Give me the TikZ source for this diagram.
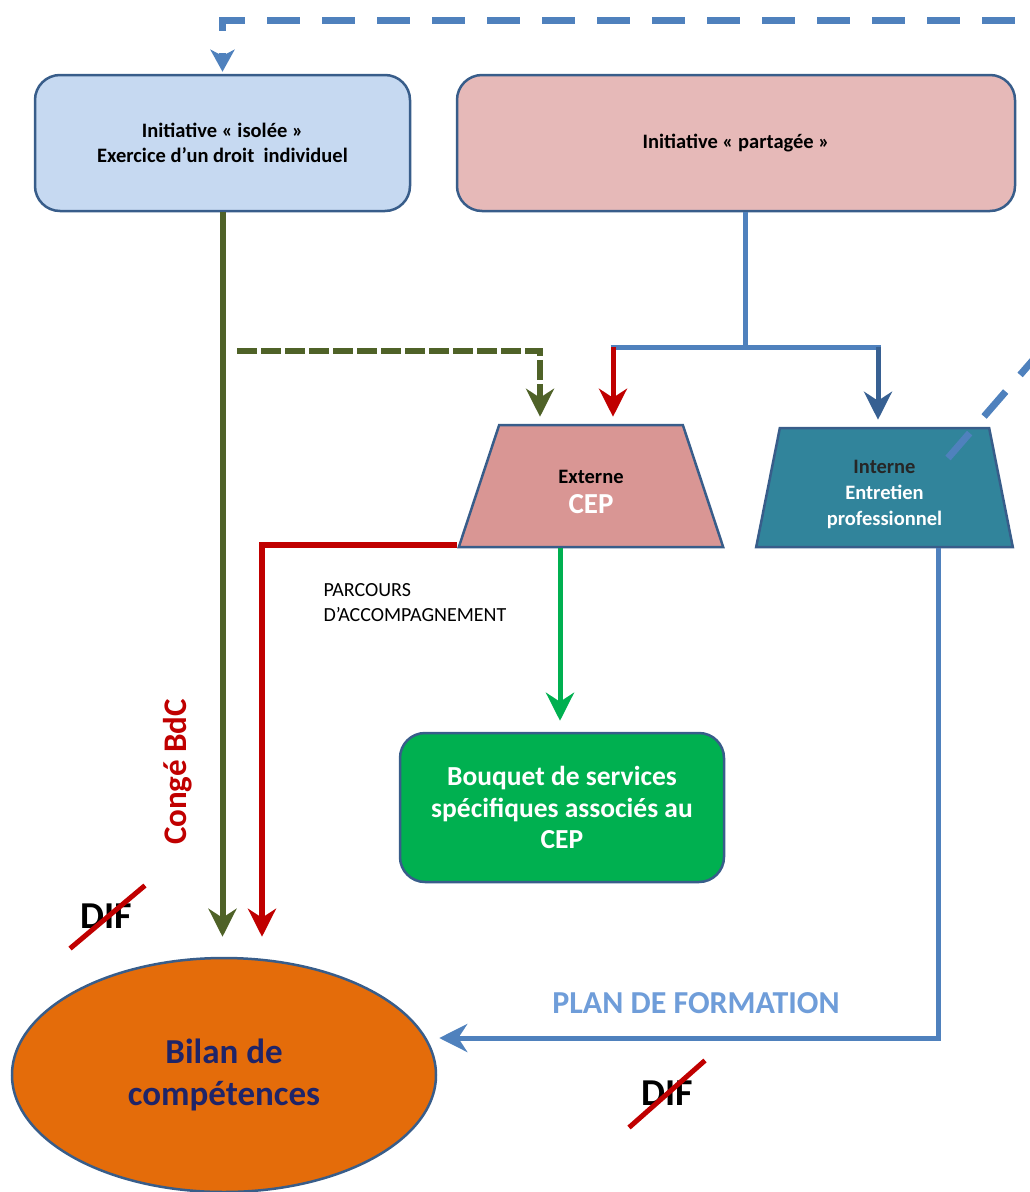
\documentclass[tikz,border=0pt]{standalone}
\usepackage{fontspec}
\setmainfont{Carlito}
\usetikzlibrary{arrows.meta,shapes.geometric,positioning}

\definecolor{boxline}{HTML}{385D8A}
\definecolor{isolfill}{HTML}{C6D9F1}
\definecolor{partfill}{HTML}{E6B9B8}
\definecolor{extfill}{HTML}{D99694}
\definecolor{intfill}{HTML}{31849B}
\definecolor{bouqfill}{HTML}{00B050}
\definecolor{bilanfill}{HTML}{E46C0A}
\definecolor{olive}{HTML}{4F6228}
\definecolor{redline}{HTML}{C00000}
\definecolor{blueline}{HTML}{4F81BD}
\definecolor{darkblue}{HTML}{376092}
\definecolor{planblue}{HTML}{6F9DD9}
\definecolor{navytext}{HTML}{1F2468}

\tikzset{
  roundbox/.style={draw=boxline, line width=2.5pt, rounded corners=25pt, align=center, inner sep=0pt},
  trapbox/.style={trapezium, trapezium stretches=true, draw=boxline, line width=2.5pt, align=center, inner sep=0pt},
  smalltxt/.style={font={\fontsize{20.5pt}{25pt}\selectfont\bfseries}},
  link/.style={line width=6pt, -{Stealth[length=28pt,width=28pt,inset=9pt]}},
  dashlink/.style={line width=7pt, blueline, dash pattern=on 33pt off 22pt},
  difstyle/.style={font={\fontsize{38pt}{38pt}\selectfont\bfseries}, inner sep=0pt},
  strike/.style={line width=5pt, redline},
}

\begin{document}
\begin{tikzpicture}[x=1pt,y=-1pt]
\useasboundingbox (0,0) rectangle (1030,1192);
% boxes
\node[roundbox, fill=isolfill, smalltxt, minimum width=375pt, minimum height=136pt] (isolee) at (222.5,143)
  {Initiative « isolée »\\Exercice d’un droit\ \ individuel};
\node[roundbox, fill=partfill, smalltxt, minimum width=558pt, minimum height=136pt] (partagee) at (736,143)
  {Initiative « partagée »};
\node[trapbox, fill=extfill, minimum width=266pt, minimum height=122pt,
  trapezium left angle=75.5, trapezium right angle=75.5] (externe) at (591,486)
  {{\fontsize{20.5pt}{20pt}\selectfont\bfseries\rule{0pt}{25pt}Externe}\\[10pt]{\fontsize{29pt}{24pt}\selectfont\bfseries\color{white}CEP}};
\node[trapbox, fill=intfill, smalltxt, minimum width=257pt, minimum height=119pt,
  trapezium left angle=81, trapezium right angle=81] (interne) at (884.5,487.5)
  {\color{black!85}\rule{0pt}{27pt}Interne\\[1pt]\color{white}Entretien\\[1pt]\color{white}professionnel};
\node[roundbox, fill=bouqfill, text=white, minimum width=324pt, minimum height=149pt,
  font={\fontsize{27.5pt}{31.5pt}\selectfont\bfseries}] (bouquet) at (562,807.5)
  {Bouquet de services\\spécifiques associés au\\CEP};
\node[ellipse, draw=boxline, line width=2.5pt, fill=bilanfill, text=navytext, inner sep=0pt,
  minimum width=424pt, minimum height=234pt, align=center,
  font={\fontsize{35pt}{42pt}\selectfont\bfseries}] (bilan) at (224,1075)
  {Bilan de\\compétences};

% labels
\node[anchor=north west, align=left, font={\fontsize{20pt}{25pt}\selectfont}] (parcours) at (320,580)
  {PARCOURS\\D’ACCOMPAGNEMENT};
\node[rotate=90, text=redline, font={\fontsize{33pt}{33pt}\selectfont\bfseries}] (conge) at (178,772) {Congé BdC};
\node[text=planblue, font={\fontsize{32pt}{32pt}\selectfont\bfseries}] (plan) at (696,1003) {PLAN DE FORMATION};
\node[difstyle] (dif1) at (106,916) {DIF};
\node[difstyle] (dif2) at (667,1093) {DIF};

% coordinates for free ends
\coordinate (forkL) at (613,347);
\coordinate (forkR) at (878,347);
\coordinate (olivestart) at (237,351);
\coordinate (planturn) at (938,1038);
\coordinate (outtop) at (1040,20);
\coordinate (outside) at (1040,352);
\coordinate (insideint) at (948,458);

% connectors
\draw[link, olive, shorten >=20pt] (isolee.south) -- (isolee.south |- bilan.north);
\draw[link, olive, dash pattern=on 20pt off 4pt, shorten >=7pt] (olivestart) -| ([xshift=-51pt]externe.north);
\draw[line width=5pt, blueline] ([xshift=9pt]partagee.south) -- ([xshift=9pt]partagee.south |- forkL);
\draw[line width=5pt, blueline] ([xshift=-2.5pt]forkL) -- ([xshift=2.5pt]forkR);
\draw[link, redline, line width=5pt, shorten >=7pt] (forkL) -- (forkL |- externe.north);
\draw[link, darkblue, line width=5pt, shorten >=7pt] (forkR) -- (forkR |- interne.north);
\draw[link, redline, shorten >=20pt] ([yshift=3pt]externe.bottom left corner) -| ([xshift=38pt]bilan.north);
\draw[link, bouqfill, line width=5pt, shorten >=11pt] ([xshift=-2pt]externe.south -| bouquet.north) -- ([xshift=-2pt]bouquet.north);
\draw[link, blueline, line width=5pt, shorten >=2pt] (interne.south -| planturn) |- (bilan.east |- planturn);
\draw[dashlink, dash phase=29.5pt, -{Stealth[length=22pt,width=24pt,inset=6pt]}, shorten >=2pt] (outtop) -| (isolee.north);
\draw[dashlink] (insideint) -- (outside);

% struck out
\draw[strike] ([shift={(-10pt,-20pt)}]dif1.south west) -- ([shift={(13pt,18pt)}]dif1.north east);
\draw[strike] ([shift={(-12pt,-22pt)}]dif2.south west) -- ([shift={(12pt,20pt)}]dif2.north east);
\end{tikzpicture}
\end{document}
